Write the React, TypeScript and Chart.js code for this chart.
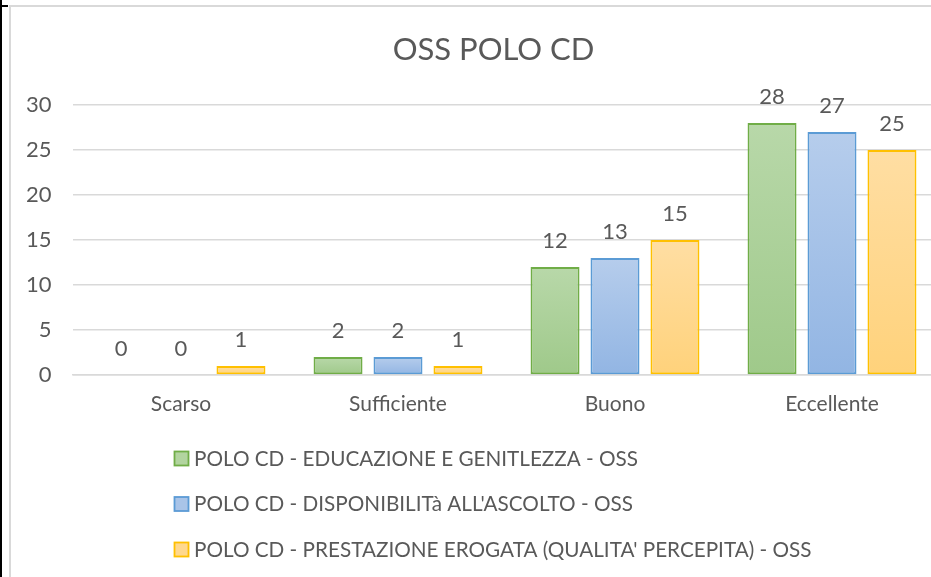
import React, { useEffect, useRef } from 'react';
import { Chart, registerables } from 'chart.js';

Chart.register(...registerables);

const titleText = 'OSS POLO CD';
const categories = ['Scarso', 'Sufficiente', 'Buono', 'Eccellente'];
const seriesNames = [
  'POLO CD - EDUCAZIONE E GENITLEZZA - OSS',
  "POLO CD - DISPONIBILITà ALL'ASCOLTO - OSS",
  "POLO CD - PRESTAZIONE EROGATA (QUALITA' PERCEPITA) - OSS",
];
const educazione = [0, 2, 12, 28];
const disponibilita = [0, 2, 13, 27];
const prestazione = [1, 1, 15, 25];
const seriesValues = [educazione, disponibilita, prestazione];
const yMin = 0;
const yMax = 30;
const yStep = 5;

const fillTop = ['#b8d8a9', '#b6cdec', '#ffdea3'];
const fillBottom = ['#9fc98a', '#92b5e3', '#ffd27b'];
const borderColors = ['#70ad47', '#5b9bd5', '#ffc000'];
const legendFill = ['#b2d49f', '#a9c4e8', '#ffd88e'];

const FONT = 'Lato, "Open Sans", sans-serif';
const TEXT = '#595959';
const GRID = '#d9d9d9';

const W = 987;
const H = 577;

export default function App() {
  const ref = useRef<HTMLCanvasElement | null>(null);

  useEffect(() => {
    if (!ref.current) return;

    const dataLabels = {
      id: 'dataLabels',
      afterDatasetsDraw(chart: any) {
        const ctx = chart.ctx;
        ctx.save();
        ctx.font = `22px ${FONT}`;
        ctx.fillStyle = TEXT;
        ctx.textAlign = 'center';
        ctx.textBaseline = 'alphabetic';
        chart.data.datasets.forEach((ds: any, di: number) => {
          const meta = chart.getDatasetMeta(di);
          meta.data.forEach((bar: any, i: number) => {
            ctx.fillText(String(ds.data[i]), bar.x, bar.y - 19);
          });
        });
        ctx.restore();
      },
    };

    const customLegend = {
      id: 'customLegend',
      afterDraw(chart: any) {
        const ctx = chart.ctx;
        ctx.save();
        ctx.font = `20.7px ${FONT}`;
        ctx.textAlign = 'left';
        ctx.textBaseline = 'middle';
        seriesNames.forEach((name, i) => {
          const bx = 174.5;
          const by = 451.5 + i * 45.5;
          ctx.fillStyle = legendFill[i];
          ctx.fillRect(bx, by, 14, 14);
          ctx.strokeStyle = borderColors[i];
          ctx.lineWidth = 1.8;
          ctx.strokeRect(bx, by, 14, 14);
          ctx.fillStyle = TEXT;
          ctx.fillText(name, 194, by + 7.5);
        });
        ctx.restore();
      },
    };

    const makeFill = (i: number) => (c: any) => {
      if (c.type !== 'data') return fillBottom[i];
      const chart = c.chart;
      const ys = chart.scales && chart.scales.y;
      if (!ys || !chart.chartArea) return fillBottom[i];
      const top = ys.getPixelForValue(c.raw);
      const bottom = ys.getPixelForValue(0);
      if (bottom - top < 1) return fillTop[i];
      const g = chart.ctx.createLinearGradient(0, top, 0, bottom);
      g.addColorStop(0, fillTop[i]);
      g.addColorStop(1, fillBottom[i]);
      return g;
    };

    const chart = new Chart(ref.current, {
      type: 'bar',
      data: {
        labels: categories,
        datasets: seriesValues.map((vals, i) => ({
          label: seriesNames[i],
          data: vals,
          backgroundColor: makeFill(i),
          borderColor: borderColors[i],
          borderWidth: 2,
          borderSkipped: false,
          categoryPercentage: 0.829,
          barPercentage: 0.817,
          yAxisID: 'y',
        })),
      },
      plugins: [dataLabels, customLegend],
      options: {
        animation: false,
        responsive: false,
        devicePixelRatio: 1,
        layout: { padding: { left: 0, right: 0, top: 0, bottom: 0 } },
        plugins: {
          legend: { display: false },
          tooltip: { enabled: false },
          title: {
            display: true,
            text: titleText,
            color: TEXT,
            font: { family: FONT, size: 31, weight: 'normal', lineHeight: 1.2 },
            padding: { top: 31.8, bottom: 36 },
          },
        },
        scales: {
          x: {
            grid: { display: false, drawTicks: false },
            border: { display: true, color: GRID, width: 1.5 },
            ticks: {
              color: TEXT,
              font: { family: FONT, size: 21 },
              padding: 17,
              maxRotation: 0,
              autoSkip: false,
            },
            afterFit: (s: any) => {
              s.height = 202;
            },
          },
          y: {
            min: yMin,
            max: yMax,
            grid: { color: GRID, lineWidth: 1.5, drawTicks: false },
            border: { display: false },
            ticks: {
              stepSize: yStep,
              color: TEXT,
              font: { family: FONT, size: 22 },
              padding: 21,
            },
            afterFit: (s: any) => {
              s.width = 72.5;
            },
          },
          yRight: {
            position: 'right',
            min: yMin,
            max: yMax,
            grid: { display: false, drawTicks: false },
            border: { display: false },
            ticks: { display: false },
            afterFit: (s: any) => {
              s.width = 46.5;
            },
          },
        },
      },
    });

    return () => chart.destroy();
  }, []);

  return (
    <div
      style={{
        position: 'fixed',
        left: 0,
        top: 0,
        width: 931,
        height: 577,
        overflow: 'hidden',
        background: '#ffffff',
      }}
    >
      <div
        style={{
          position: 'absolute',
          left: 9,
          top: 5,
          width: 1100,
          height: 800,
          border: `2px solid ${GRID}`,
          boxSizing: 'border-box',
        }}
      />
      <div style={{ position: 'absolute', left: 0, top: 0, width: 2, height: 577, background: '#000' }} />
      <div style={{ position: 'absolute', left: 0, top: 5, width: 8, height: 2, background: '#000' }} />
      <canvas
        ref={ref}
        width={W}
        height={H}
        style={{ position: 'absolute', left: 0, top: 0, width: W, height: H }}
      />
    </div>
  );
}
